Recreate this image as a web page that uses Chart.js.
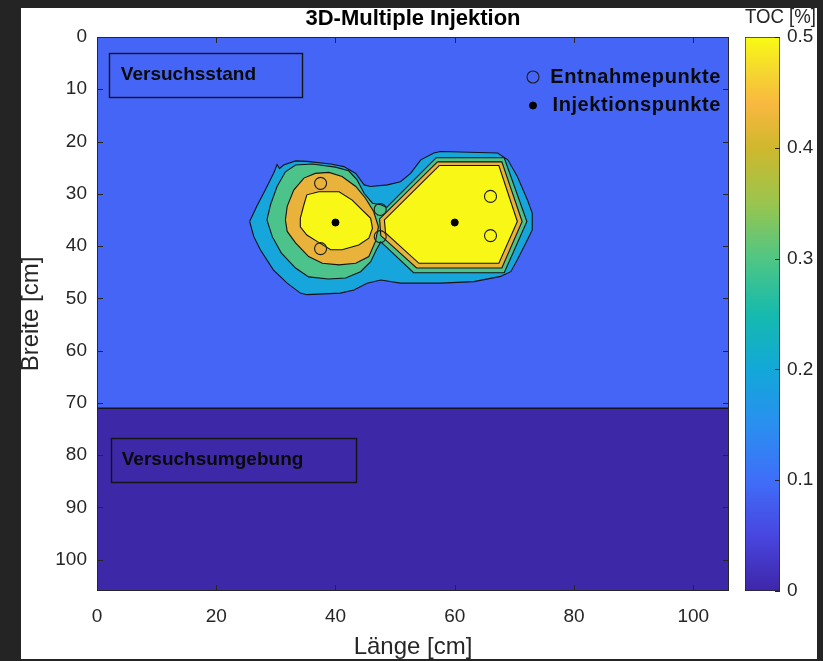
<!DOCTYPE html>
<html>
<head>
<meta charset="utf-8">
<script src="https://cdn.jsdelivr.net/npm/chart.js@4.4.1/dist/chart.umd.min.js"></script>
<style>
  html, body { margin: 0; padding: 0; width: 823px; height: 661px; overflow: hidden; background: #242424; }
  #sheet { position: absolute; left: 21px; top: 8px; width: 796px; height: 651px; background: #ffffff; }
  #plot { position: absolute; left: 0; top: 0; }
  #cbar { position: absolute; left: 735px; top: 0; }
</style>
</head>
<body>
<div id="sheet"></div>
<canvas id="plot" width="745" height="661"></canvas>
<canvas id="cbar" width="81" height="661"></canvas>
<script>
// ---- Grid extent (cm) and tick labels ----
const fieldMax = 106;              // Länge and Breite both run 0..106 cm
const standEdge = 71;              // Breite where the test stand ends
const xTickValues = [0, 20, 40, 60, 80, 100];
const yTickValues = [0, 10, 20, 30, 40, 50, 60, 70, 80, 90, 100];
const tocRange = [0, 0.5];
const tocTickValues = [0, 0.1, 0.2, 0.3, 0.4, 0.5];

// ---- TOC contour outlines, [Länge, Breite] in cm ----
const toc020 = [[25.6,35.3],[26.8,32.4],[28.2,29.3],[29.6,26.1],[29.9,25.3],[30.2,24.4],[30.6,25.2],[31.3,24.5],[33.3,23.7],
  [35.2,23.8],[39.2,24.3],[41.4,24.8],[43.4,26.1],[44.8,28.3],[45.9,28.6],[48.7,28.3],[50.9,27.7],[52.6,26.1],
  [54.3,23.5],[56.5,22.2],[57.6,21.9],[67.2,22.2],[68.9,23.5],[70.5,26.7],[72.2,31.2],[73.0,33.7],[73.0,36.9],
  [72.2,38.8],[70.5,42.6],[69.4,44.9],[67.7,45.8],[63.2,46.8],[57.6,47.1],[50.9,47.1],[47.6,46.5],[45.3,47.1],
  [43.1,48.4],[40.8,49.0],[35.2,49.3],[34.1,49.0],[31.9,47.1],[29.6,44.6],[27.4,40.7],[26.3,38.2]];
const toc030 = [[28.5,35.0],[29.1,32.1],[30.2,28.6],[31.6,25.8],[33.3,24.5],[36.1,24.3],[40.0,24.9],[42.2,25.6],
  [43.6,27.3],[44.8,29.9],[46.2,31.8],[47.6,32.1],[48.6,32.6],[56.9,23.1],[68.3,23.1],[72.1,35.3],[68.3,45.1],
  [53.1,45.1],[47.6,39.2],[46.9,40.6],[45.9,43.0],[44.2,44.9],[41.7,46.1],[38.8,46.3],[35.5,45.9],[33.3,44.2],
  [30.9,41.3],[29.4,38.2]];
const toc040Left = [[31.6,35.0],[31.9,32.4],[33.0,29.3],[34.7,27.0],[36.6,26.1],[38.9,25.9],[41.1,26.7],[43.4,28.6],
  [45.0,30.8],[46.4,33.4],[47.2,36.3],[46.7,39.1],[45.6,42.0],[43.4,43.3],[40.6,43.6],[37.8,43.3],[35.5,42.0],
  [33.3,39.4],[31.9,37.2]];
const toc040Right = [[57.1,23.9],[67.9,23.9],[71.3,35.3],[67.9,44.2],[53.6,44.2],[47.6,38.0],[47.4,34.8]];
const toc050Left = [[34.1,34.7],[34.7,32.1],[35.2,30.2],[37.2,29.6],[40.6,29.6],[42.8,31.2],[44.2,32.8],[45.9,34.7],
  [46.2,36.6],[45.6,38.5],[43.9,39.8],[41.1,40.7],[39.2,40.7],[36.9,39.1],[35.2,37.9],[34.1,36.3]];
const toc050Right = [[57.4,24.6],[67.4,24.6],[70.5,35.3],[67.4,43.3],[54.0,43.3],[48.4,37.5],[48.2,35.0]];

// ---- Sampling and injection points (cm) ----
const sampleX = [37.5, 37.5, 47.5, 47.5, 66, 66];
const sampleY = [28, 40.5, 33, 38.2, 30.5, 38];
const injectX = [40, 60];
const injectY = [35.5, 35.5];

// ---- Styling ----
const FONT = "'Liberation Sans', Arial, Helvetica, sans-serif";
const AXIS_GREY = '#262626';
const parulaStops = [
  [0.00, '#3e26a8'], [0.10, '#4846e0'], [0.20, '#3f6ef9'], [0.30, '#2a8ff0'], [0.40, '#12a8d8'],
  [0.50, '#16baad'], [0.60, '#4fc684'], [0.70, '#9ac54e'], [0.80, '#cfb82d'], [0.88, '#f9b840'],
  [0.94, '#f5d82e'], [1.00, '#f9fa14']
];
Chart.defaults.font.family = FONT;
Chart.defaults.color = AXIS_GREY;

const closed = pts => pts.concat([pts[0]]).map(([x, y]) => ({ x, y }));
const rect = (x0, x1, y0, y1) => [[x0, y0], [x1, y0], [x1, y1], [x0, y1]];

function zone(label, pts, color, order) {
  return {
    label, data: closed(pts), showLine: true, fill: 'shape', tension: 0,
    backgroundColor: color, borderColor: '#141414', borderWidth: 1.1,
    pointRadius: 0, pointHoverRadius: 0, order
  };
}

// inward tick marks and box around the axes
const axesFrame = {
  id: 'axesFrame',
  afterDatasetsDraw(chart) {
    const { ctx, chartArea: a, scales: { x, y } } = chart;
    const len = 6;
    ctx.save();
    ctx.strokeStyle = AXIS_GREY;
    ctx.lineWidth = 1;
    ctx.beginPath();
    x.ticks.forEach(t => {
      const px = Math.round(x.getPixelForValue(t.value)) + 0.5;
      ctx.moveTo(px, a.bottom); ctx.lineTo(px, a.bottom - len);
      ctx.moveTo(px, a.top); ctx.lineTo(px, a.top + len);
    });
    y.ticks.forEach(t => {
      const py = Math.round(y.getPixelForValue(t.value)) + 0.5;
      ctx.moveTo(a.left, py); ctx.lineTo(a.left + len, py);
      ctx.moveTo(a.right, py); ctx.lineTo(a.right - len, py);
    });
    ctx.stroke();
    ctx.strokeRect(Math.round(a.left) + 0.5, Math.round(a.top) + 0.5, Math.round(a.width) - 1, Math.round(a.height) - 1);
    ctx.restore();
  }
};

// framed region captions placed in data coordinates
const regionNotes = {
  id: 'regionNotes',
  afterDatasetsDraw(chart, args, opts) {
    const { ctx, scales: { x, y } } = chart;
    ctx.save();
    opts.notes.forEach(n => {
      const l = Math.round(x.getPixelForValue(n.x0)) + 0.5, r = Math.round(x.getPixelForValue(n.x1)) + 0.5;
      const t = Math.round(y.getPixelForValue(n.y0)) + 0.5, b = Math.round(y.getPixelForValue(n.y1)) + 0.5;
      ctx.strokeStyle = '#141414';
      ctx.lineWidth = 1.4;
      ctx.strokeRect(l, t, r - l, b - t);
      ctx.fillStyle = '#0a0a0a';
      ctx.font = 'bold 19px ' + FONT;
      ctx.textAlign = 'left';
      ctx.textBaseline = 'middle';
      ctx.fillText(n.text, x.getPixelForValue(n.tx), (t + b) / 2 - 1);
    });
    ctx.restore();
  }
};

// borderless key for the point series, top right inside the axes
const pointKey = {
  id: 'pointKey',
  afterDatasetsDraw(chart, args, opts) {
    const { ctx, chartArea: a } = chart;
    ctx.save();
    ctx.font = 'bold 20px ' + FONT;
    ctx.letterSpacing = '0.6px';
    ctx.textAlign = 'right';
    ctx.textBaseline = 'middle';
    opts.items.forEach((it, i) => {
      const ds = chart.data.datasets[it];
      const cy = a.top + opts.firstRow + i * opts.rowGap;
      const mx = a.right - opts.markerInset;
      ctx.beginPath();
      ctx.arc(mx, cy, ds.pointRadius, 0, Math.PI * 2);
      if (ds.pointBackgroundColor !== 'rgba(0,0,0,0)') { ctx.fillStyle = ds.pointBackgroundColor; ctx.fill(); }
      ctx.lineWidth = ds.pointBorderWidth;
      ctx.strokeStyle = ds.pointBorderColor;
      ctx.stroke();
      ctx.fillStyle = '#0a0a0a';
      ctx.fillText(ds.label, a.right - opts.textInset, cy);
    });
    ctx.restore();
  }
};

const regionFill = { stand: '#4565f7', surround: '#3d29a8', c020: '#17a6dc', c030: '#4cc38a', c040: '#e9b23a', c050: '#f8f716' };

new Chart(document.getElementById('plot'), {
  type: 'scatter',
  data: {
    datasets: [
      {
        label: 'Entnahmepunkte', data: sampleX.map((x, i) => ({ x, y: sampleY[i] })),
        pointRadius: 6, pointBackgroundColor: 'rgba(0,0,0,0)', pointBorderColor: '#1e1e1e',
        pointBorderWidth: 1.1, pointHoverRadius: 6, order: 1
      },
      {
        label: 'Injektionspunkte', data: injectX.map((x, i) => ({ x, y: injectY[i] })),
        pointRadius: 3.5, pointBackgroundColor: '#000000', pointBorderColor: '#000000',
        pointBorderWidth: 1, pointHoverRadius: 3.5, order: 0
      },
      zone('TOC ≥ 0.5 links', toc050Left, regionFill.c050, 5),
      zone('TOC ≥ 0.5 rechts', toc050Right, regionFill.c050, 5),
      zone('TOC 0.4 links', toc040Left, regionFill.c040, 6),
      zone('TOC 0.4 rechts', toc040Right, regionFill.c040, 6),
      zone('TOC 0.3', toc030, regionFill.c030, 7),
      zone('TOC 0.2', toc020, regionFill.c020, 8),
      zone('Versuchsstand', rect(0, fieldMax, 0, standEdge), regionFill.stand, 9),
      zone('Versuchsumgebung', rect(0, fieldMax, standEdge, fieldMax), regionFill.surround, 10)
    ]
  },
  options: {
    responsive: false,
    animation: false,
    devicePixelRatio: 1,
    events: [],
    layout: { padding: { left: 0, right: 16, top: 0, bottom: 0 } },
    plugins: {
      legend: { display: false },
      tooltip: { enabled: false },
      title: {
        display: true, text: '3D-Multiple Injektion', fullSize: false, color: '#000000',
        font: { family: FONT, size: 22, weight: 'bold' }, padding: { top: 6, bottom: 4.6 }
      },
      regionNotes: {
        notes: [
          { text: 'Versuchsstand', x0: 2.0, x1: 34.4, y0: 3.1, y1: 11.5, tx: 4.0 },
          { text: 'Versuchsumgebung', x0: 2.4, x1: 43.4, y0: 76.7, y1: 85.1, tx: 4.15 }
        ]
      },
      pointKey: { items: [0, 1], firstRow: 40, rowGap: 28.5, markerInset: 196, textInset: 8 }
    },
    scales: {
      x: {
        type: 'linear', position: 'bottom', min: 0, max: fieldMax,
        afterBuildTicks: s => { s.ticks = xTickValues.map(v => ({ value: v })); },
        afterFit: s => { s.height = 70; },
        grid: { display: false, drawTicks: false },
        border: { display: false },
        ticks: { padding: 14.6, color: AXIS_GREY, maxRotation: 0, font: { family: FONT, size: 19 } },
        title: { display: true, text: 'Länge [cm]', color: AXIS_GREY, font: { family: FONT, size: 24 }, padding: { top: 0, bottom: -1 } }
      },
      y: {
        type: 'linear', position: 'left', reverse: true, min: 0, max: fieldMax,
        afterBuildTicks: s => { s.ticks = yTickValues.map(v => ({ value: v })); },
        afterFit: s => { s.width = 97; },
        grid: { display: false, drawTicks: false },
        border: { display: false },
        ticks: { padding: 10, color: AXIS_GREY, font: { family: FONT, size: 19 } },
        title: { display: true, text: 'Breite [cm]', color: AXIS_GREY, font: { family: FONT, size: 24 }, padding: { top: 16.6, bottom: 0 } }
      }
    }
  },
  plugins: [axesFrame, regionNotes, pointKey]
});

// ---- colour bar ----
const cbarTicks = {
  id: 'cbarTicks',
  afterDatasetsDraw(chart) {
    const { ctx, chartArea: a, scales: { y } } = chart;
    ctx.save();
    ctx.strokeStyle = AXIS_GREY;
    ctx.lineWidth = 1;
    ctx.beginPath();
    y.ticks.forEach(t => {
      const py = Math.round(y.getPixelForValue(t.value)) + 0.5;
      ctx.moveTo(a.right, py); ctx.lineTo(a.right - 5, py);
    });
    ctx.stroke();
    ctx.restore();
  }
};

new Chart(document.getElementById('cbar'), {
  type: 'bar',
  data: {
    labels: ['TOC'],
    datasets: [{
      data: [[tocRange[0], tocRange[1]]],
      backgroundColor: c => {
        const { chart } = c;
        if (!chart.chartArea) return parulaStops[0][1];
        const ys = chart.scales.y;
        const g = chart.ctx.createLinearGradient(0, ys.getPixelForValue(tocRange[0]), 0, ys.getPixelForValue(tocRange[1]));
        parulaStops.forEach(([t, col]) => g.addColorStop(t, col));
        return g;
      },
      borderColor: AXIS_GREY, borderWidth: 1, borderSkipped: false,
      barPercentage: 1, categoryPercentage: 1
    }]
  },
  options: {
    responsive: false,
    animation: false,
    devicePixelRatio: 1,
    events: [],
    layout: { padding: { left: 10, right: 0, top: 0, bottom: 70 } },
    plugins: {
      legend: { display: false },
      tooltip: { enabled: false },
      title: {
        display: true, text: 'TOC [%]', align: 'end', color: AXIS_GREY,
        font: { family: FONT, size: 20, weight: 'normal' }, padding: { top: 5, bottom: 8 }
      }
    },
    scales: {
      x: { display: false },
      y: {
        position: 'right', min: tocRange[0], max: tocRange[1],
        afterBuildTicks: s => { s.ticks = tocTickValues.map(v => ({ value: v })); },
        afterFit: s => { s.width = 36; },
        grid: { display: false, drawTicks: false },
        border: { display: false },
        ticks: { padding: 7, color: AXIS_GREY, font: { family: FONT, size: 19 } }
      }
    }
  },
  plugins: [cbarTicks]
});
</script>
</body>
</html>
